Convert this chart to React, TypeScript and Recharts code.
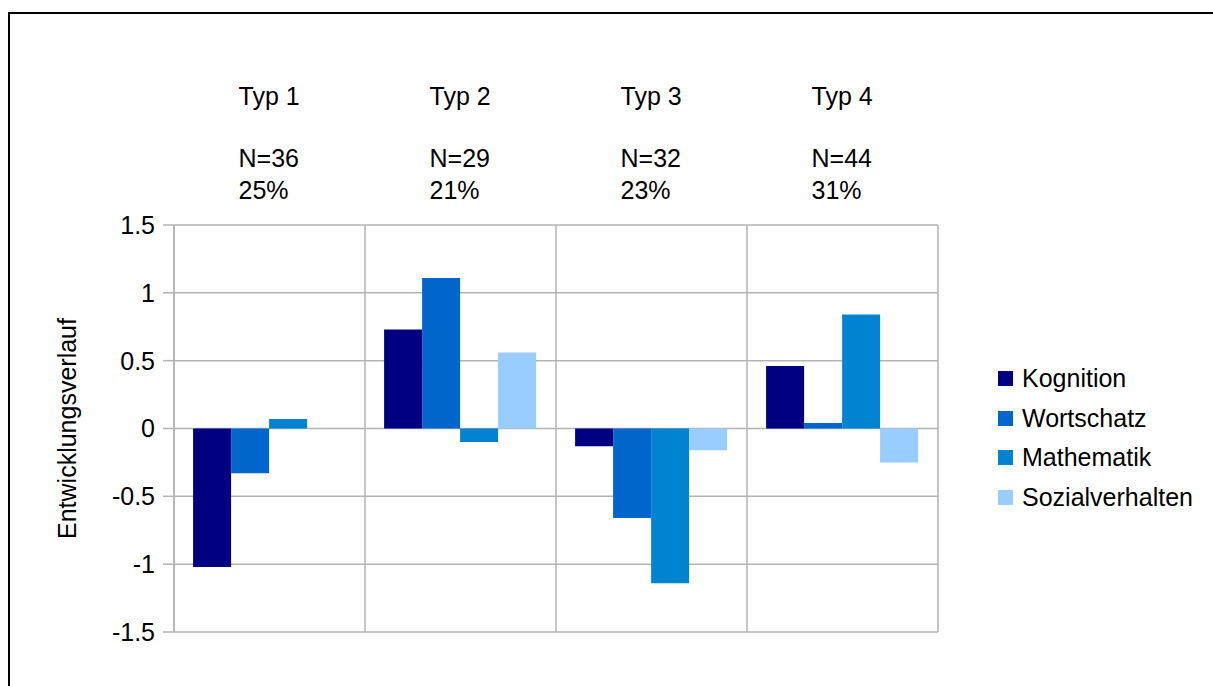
import { Bar, BarChart, CartesianGrid, XAxis, YAxis } from "recharts";

const categories = ["Typ 1", "Typ 2", "Typ 3", "Typ 4"];
const groupSizes = ["N=36", "N=29", "N=32", "N=44"];
const groupShares = ["25%", "21%", "23%", "31%"];

const kognition = [-1.02, 0.73, -0.13, 0.46];
const wortschatz = [-0.33, 1.11, -0.66, 0.04];
const mathematik = [0.07, -0.1, -1.14, 0.84];
const sozialverhalten = [0, 0.56, -0.16, -0.25];

const yTicks = [-1.5, -1, -0.5, 0, 0.5, 1, 1.5];

const series = [
  { key: "Kognition", color: "#000080" },
  { key: "Wortschatz", color: "#0066cc" },
  { key: "Mathematik", color: "#0084d1" },
  { key: "Sozialverhalten", color: "#99ccff" },
];

const data = categories.map((name, i) => ({
  name,
  n: groupSizes[i],
  share: groupShares[i],
  Kognition: kognition[i],
  Wortschatz: wortschatz[i],
  Mathematik: mathematik[i],
  Sozialverhalten: sozialverhalten[i],
}));

const FONT = "'Liberation Sans', Arial, sans-serif";
const GRID = "#b3b3b3";

function TopTick(props: any) {
  const { x, y, index } = props;
  const row = data[index];
  const left = x - 31;
  return (
    <g fontFamily={FONT} fontSize={25} fill="#000">
      <text x={left} y={y - 120}>{row.name}</text>
      <text x={left} y={y - 58}>{row.n}</text>
      <text x={left} y={y - 26}>{row.share}</text>
    </g>
  );
}

// legend drawn next to the chart so it doesn't eat plot space
function LegendBox() {
  return (
    <div style={{ position: "absolute", left: 998, top: 359, fontFamily: FONT, fontSize: 25, color: "#000" }}>
      {series.map((s) => (
        <div key={s.key} style={{ display: "flex", alignItems: "center", height: 39.5 }}>
          <span style={{ width: 15, height: 15, background: s.color, marginRight: 9, display: "inline-block" }} />
          <span>{s.key}</span>
        </div>
      ))}
    </div>
  );
}

export default function App() {
  return (
    <div style={{ position: "relative", width: 1213, height: 686, background: "#fff", overflow: "hidden" }}>
      <style>{`body{margin:0}`}</style>
      <div
        style={{
          position: "absolute",
          left: 8,
          top: 12,
          width: 1300,
          height: 800,
          borderLeft: "2px solid #000",
          borderTop: "2px solid #000",
        }}
      />
      <BarChart
        width={1213}
        height={686}
        data={data}
        margin={{ top: 75, right: 275, bottom: 54, left: 50 }}
        barCategoryGap="10%"
        barGap={0}
        style={{ position: "absolute", left: 0, top: 0 }}
      >
        <CartesianGrid
          stroke={GRID}
          strokeWidth={1.5}
          verticalCoordinatesGenerator={({ offset }: any) =>
            [0, 1, 2, 3, 4].map((i) => offset.left + (i * offset.width) / 4)
          }
        />
        <XAxis
          dataKey="name"
          orientation="top"
          height={150}
          axisLine={false}
          tickLine={false}
          tickSize={0}
          tickMargin={0}
          interval={0}
          tick={<TopTick />}
        />
        <YAxis
          width={124}
          domain={[-1.5, 1.5]}
          ticks={yTicks}
          allowDataOverflow
          stroke={GRID}
          strokeWidth={1.5}
          tickSize={11}
          tickMargin={8}
          tick={{ fill: "#000", fontSize: 25, fontFamily: FONT }}
          label={{
            position: "insideLeft",
            content: (p: any) => {
              const vb = p.viewBox;
              const cx = vb.x + 17;
              const cy = vb.y + vb.height / 2;
              return (
                <text
                  x={cx}
                  y={cy}
                  transform={`rotate(-90 ${cx} ${cy})`}
                  textAnchor="middle"
                  dominantBaseline="central"
                  fontFamily={FONT}
                  fontSize={25}
                  fill="#000"
                >
                  Entwicklungsverlauf
                </text>
              );
            },
          }}
        />
        {series.map((s) => (
          <Bar key={s.key} dataKey={s.key} fill={s.color} isAnimationActive={false} />
        ))}
      </BarChart>
      <LegendBox />
    </div>
  );
}
